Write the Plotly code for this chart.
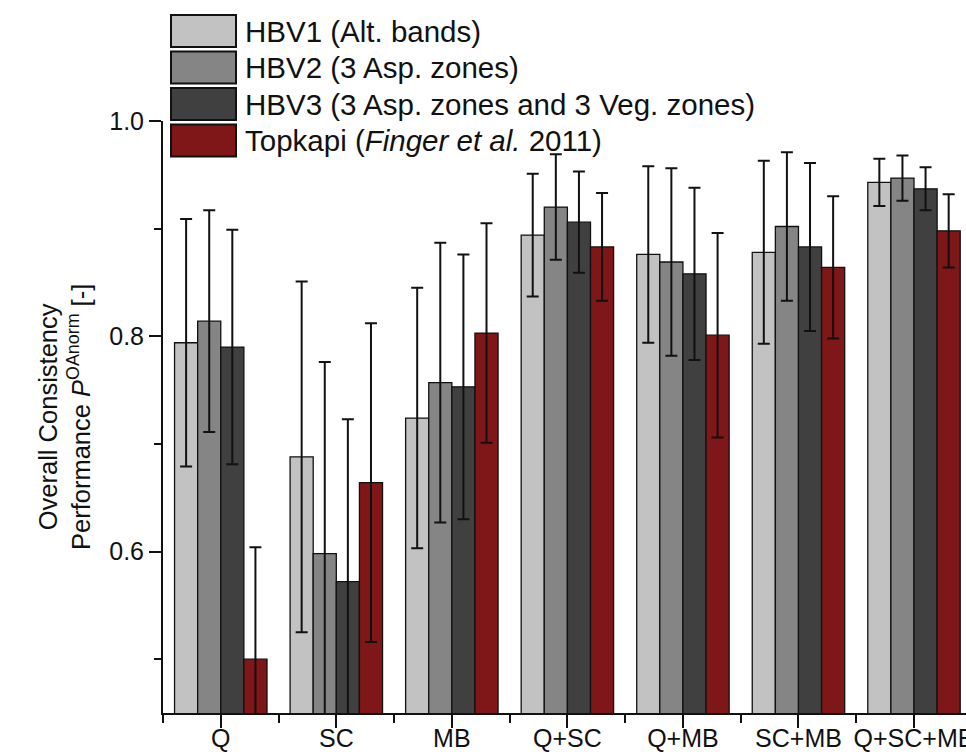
import plotly.graph_objects as go

# Calibration target combinations
categories = ["Q", "SC", "MB", "Q+SC", "Q+MB", "SC+MB", "Q+SC+MB"]

# Series names (legend text) and fill colours
series_names = [
    "HBV1 (Alt. bands)",
    "HBV2 (3 Asp. zones)",
    "HBV3 (3 Asp. zones and 3 Veg. zones)",
    "Topkapi (<i>Finger et al.</i> 2011)",
]
series_colors = ["#c2c2c2", "#858585", "#404040", "#7f1618"]

# Mean overall consistency performance and its spread (symmetric error bars)
hbv1 = [0.794, 0.688, 0.724, 0.894, 0.876, 0.878, 0.943]
hbv1_err = [0.115, 0.163, 0.121, 0.057, 0.082, 0.085, 0.022]
hbv2 = [0.814, 0.598, 0.757, 0.920, 0.869, 0.902, 0.947]
hbv2_err = [0.103, 0.178, 0.130, 0.049, 0.087, 0.069, 0.021]
hbv3 = [0.790, 0.572, 0.753, 0.906, 0.858, 0.883, 0.937]
hbv3_err = [0.109, 0.151, 0.123, 0.047, 0.080, 0.078, 0.020]
topkapi = [0.500, 0.664, 0.803, 0.883, 0.801, 0.864, 0.898]
topkapi_err = [0.104, 0.148, 0.102, 0.050, 0.095, 0.066, 0.034]

y_ticks = [0.6, 0.8, 1.0]
y_tick_labels = ["0.6", "0.8", "1.0"]

values = [hbv1, hbv2, hbv3, topkapi]
errors = [hbv1_err, hbv2_err, hbv3_err, topkapi_err]

FONT = "Liberation Sans, Arial, sans-serif"
W, H = 966, 755
ML, MR, MT, MB = 163, 0, 121, 42

xpos = list(range(len(categories)))

fig = go.Figure()
for name, col, v, e in zip(series_names, series_colors, values, errors):
    fig.add_trace(go.Bar(
        x=xpos, y=v, name=name,
        marker=dict(color=col, line=dict(color="#111111", width=1.3)),
        error_y=dict(type="data", array=e, visible=True,
                     color="#111111", thickness=2, width=6),
        showlegend=False,
    ))

# Legend drawn as large outlined swatches with labels to the right
plot_w = W - ML - MR
plot_h = H - MT - MB


def px_x(px):
    return (px - ML) / plot_w


def px_y(py):
    return (H - MB - py) / plot_h


box_left, box_right = 171, 236
row_top0, row_pitch, box_h = 15, 36.5, 32
for i, (name, col) in enumerate(zip(series_names, series_colors)):
    top = row_top0 + i * row_pitch
    fig.add_shape(type="rect", xref="paper", yref="paper",
                  x0=px_x(box_left), x1=px_x(box_right),
                  y0=px_y(top + box_h), y1=px_y(top),
                  fillcolor=col, line=dict(color="#111111", width=2))
    fig.add_annotation(xref="paper", yref="paper",
                       x=px_x(box_right + 7), y=px_y(top + box_h / 2),
                       xanchor="left", yanchor="middle", showarrow=False,
                       text=name, font=dict(family=FONT, size=29.5, color="#111111"))

# Two-line y-axis title
fig.add_annotation(xref="paper", yref="paper",
                   x=px_x(64), y=0.5, xanchor="center", yanchor="middle",
                   showarrow=False, textangle=-90,
                   text="Overall Consistency<br>Performance <i>P</i><sup>OAnorm</sup> [-]",
                   font=dict(family=FONT, size=25.5, color="#111111"))

fig.update_layout(
    width=W, height=H,
    margin=dict(l=ML, r=MR, t=MT, b=MB, autoexpand=False),
    paper_bgcolor="white", plot_bgcolor="white",
    barmode="group", bargap=0.2, bargroupgap=0,
    font=dict(family=FONT, color="#111111"),
)
fig.update_xaxes(
    range=[-0.5, 6.45], tickvals=xpos, ticktext=categories,
    ticks="outside", ticklen=13, tickwidth=2, tickcolor="#111111",
    showline=True, linecolor="#111111", linewidth=2,
    showgrid=False, zeroline=False,
    tickfont=dict(family=FONT, size=25, color="#111111"),
    ticklabelstandoff=-11, ticklabeloverflow="allow",
    minor=dict(tickvals=[i - 0.5 for i in xpos], ticks="outside",
               ticklen=8, tickwidth=2, tickcolor="#111111", showgrid=False),
    automargin=False,
)
fig.update_yaxes(
    range=[0.45, 1.0], tickvals=y_ticks, ticktext=y_tick_labels,
    ticks="outside", ticklen=12, tickwidth=2, tickcolor="#111111",
    showline=True, linecolor="#111111", linewidth=2,
    showgrid=False, zeroline=False,
    tickfont=dict(family=FONT, size=25, color="#111111"),
    minor=dict(tickvals=[0.5, 0.7, 0.9], ticks="outside",
               ticklen=7, tickwidth=2, tickcolor="#111111", showgrid=False),
    automargin=False,
)

fig.write_html("out.html")
